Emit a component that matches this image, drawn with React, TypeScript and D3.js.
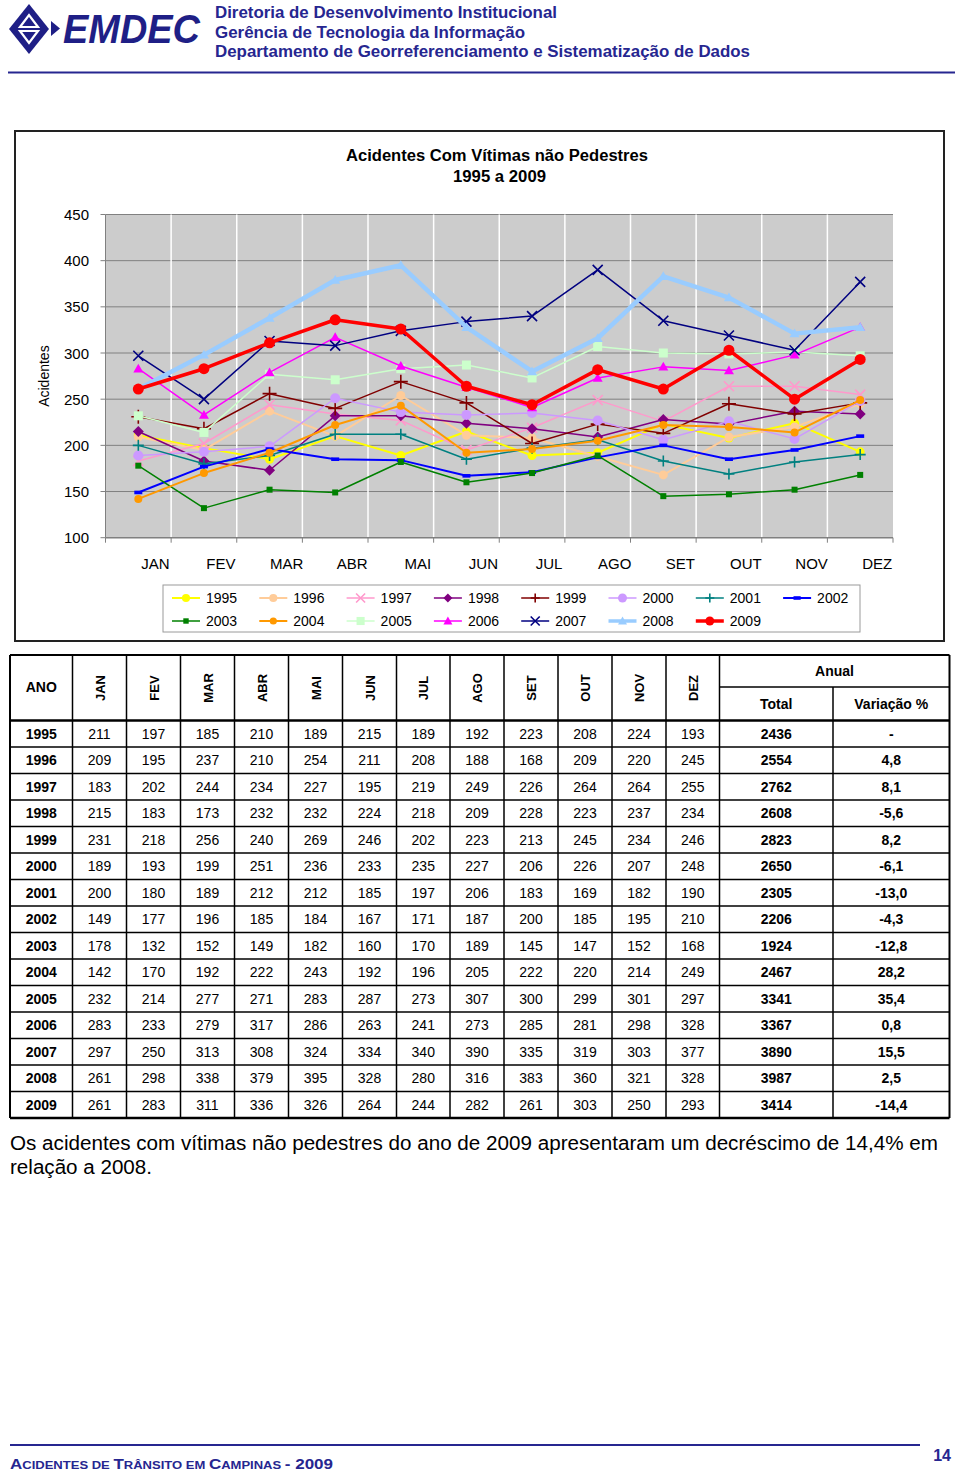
import React from "react";
import * as d3 from "d3";

const MONTHS = ["JAN", "FEV", "MAR", "ABR", "MAI", "JUN", "JUL", "AGO", "SET", "OUT", "NOV", "DEZ"];
const YEARS = ["1995", "1996", "1997", "1998", "1999", "2000", "2001", "2002", "2003", "2004", "2005", "2006", "2007", "2008", "2009"];

const V1995 = [211, 197, 185, 210, 189, 215, 189, 192, 223, 208, 224, 193];
const V1996 = [209, 195, 237, 210, 254, 211, 208, 188, 168, 209, 220, 245];
const V1997 = [183, 202, 244, 234, 227, 195, 219, 249, 226, 264, 264, 255];
const V1998 = [215, 183, 173, 232, 232, 224, 218, 209, 228, 223, 237, 234];
const V1999 = [231, 218, 256, 240, 269, 246, 202, 223, 213, 245, 234, 246];
const V2000 = [189, 193, 199, 251, 236, 233, 235, 227, 206, 226, 207, 248];
const V2001 = [200, 180, 189, 212, 212, 185, 197, 206, 183, 169, 182, 190];
const V2002 = [149, 177, 196, 185, 184, 167, 171, 187, 200, 185, 195, 210];
const V2003 = [178, 132, 152, 149, 182, 160, 170, 189, 145, 147, 152, 168];
const V2004 = [142, 170, 192, 222, 243, 192, 196, 205, 222, 220, 214, 249];
const V2005 = [232, 214, 277, 271, 283, 287, 273, 307, 300, 299, 301, 297];
const V2006 = [283, 233, 279, 317, 286, 263, 241, 273, 285, 281, 298, 328];
const V2007 = [297, 250, 313, 308, 324, 334, 340, 390, 335, 319, 303, 377];
const V2008 = [261, 298, 338, 379, 395, 328, 280, 316, 383, 360, 321, 328];
const V2009 = [261, 283, 311, 336, 326, 264, 244, 282, 261, 303, 250, 293];

const TOTALS = ["2436", "2554", "2762", "2608", "2823", "2650", "2305", "2206", "1924", "2467", "3341", "3367", "3890", "3987", "3414"];
const VARIATION = ["-", "4,8", "8,1", "-5,6", "8,2", "-6,1", "-13,0", "-4,3", "-12,8", "28,2", "35,4", "0,8", "15,5", "2,5", "-14,4"];

const Y_TICKS = [100, 150, 200, 250, 300, 350, 400, 450];

const SERIES_VALUES = [V1995, V1996, V1997, V1998, V1999, V2000, V2001, V2002, V2003, V2004, V2005, V2006, V2007, V2008, V2009];

// styles (separate from data)
const SERIES_STYLE = [
  { color: "#FFFF00", marker: "circle", size: 9, lw: 2 },
  { color: "#FFCC99", marker: "circle", size: 9, lw: 2 },
  { color: "#FF99CC", marker: "x", size: 10, lw: 1.5 },
  { color: "#800080", marker: "diamond", size: 11, lw: 1.5 },
  { color: "#800000", marker: "plus", size: 14, lw: 1.5 },
  { color: "#CC99FF", marker: "circle", size: 10, lw: 1.5 },
  { color: "#008080", marker: "plus", size: 11, lw: 1.5 },
  { color: "#0000FF", marker: "dash", size: 8, lw: 2 },
  { color: "#008000", marker: "square", size: 6, lw: 1.5 },
  { color: "#FF9900", marker: "circle", size: 8, lw: 2 },
  { color: "#CCFFCC", marker: "square", size: 9, lw: 1.5 },
  { color: "#FF00FF", marker: "triangle", size: 10, lw: 1.5 },
  { color: "#000080", marker: "x", size: 10, lw: 1.5 },
  { color: "#99CCFF", marker: "triangle", size: 10, lw: 4.5 },
  { color: "#FF0000", marker: "circle", size: 11, lw: 3.5 },
];

const FONT = "Liberation Sans, Arial, Helvetica, sans-serif";
const BLUE = "#262690";

function Marker({ type, x, y, color, size }: { type: string; x: number; y: number; color: string; size: number }) {
  const s = size / 2;
  switch (type) {
    case "circle":
      return <circle cx={x} cy={y} r={s} fill={color} />;
    case "square":
      return <rect x={x - s} y={y - s} width={size} height={size} fill={color} />;
    case "diamond":
      return <path d={`M${x},${y - s}L${x + s},${y}L${x},${y + s}L${x - s},${y}Z`} fill={color} />;
    case "triangle":
      return <path d={`M${x},${y - s}L${x + s},${y + s * 0.75}L${x - s},${y + s * 0.75}Z`} fill={color} />;
    case "x":
      return (
        <path d={`M${x - s},${y - s}L${x + s},${y + s}M${x - s},${y + s}L${x + s},${y - s}`} stroke={color} strokeWidth={1.6} fill="none" />
      );
    case "plus":
      return <path d={`M${x - s},${y}L${x + s},${y}M${x},${y - s}L${x},${y + s}`} stroke={color} strokeWidth={1.6} fill="none" />;
    case "dash":
      return <rect x={x - s} y={y - 1.8} width={size} height={3.6} fill={color} />;
    default:
      return null;
  }
}

function Header() {
  return (
    <g>
      {/* logo diamond */}
      <path d="M29,4 L49,29 L29,54 L9,29 Z" fill="#1f1f86" />
      <path d="M20,27 L29,15 L38,27 Z" fill="none" stroke="#fff" strokeWidth={2.2} />
      <path d="M20,31 L38,31 L29,43 Z" fill="none" stroke="#fff" strokeWidth={2.2} />
      <path d="M51,21 L60,28.5 L51,36 Z" fill="#1f1f86" />
      <text x={63} y={43} fontFamily={FONT} fontWeight="bold" fontStyle="italic" fontSize={40} fill="#1f1f86" textLength={137} lengthAdjust="spacingAndGlyphs">
        EMDEC
      </text>
      <text x={215} y={18} fontFamily={FONT} fontWeight="bold" fontSize={17} fill={BLUE} textLength={342} lengthAdjust="spacingAndGlyphs">
        Diretoria de Desenvolvimento Institucional
      </text>
      <text x={215} y={37.5} fontFamily={FONT} fontWeight="bold" fontSize={17} fill={BLUE} textLength={310} lengthAdjust="spacingAndGlyphs">
        Gerência de Tecnologia da Informação
      </text>
      <text x={215} y={57} fontFamily={FONT} fontWeight="bold" fontSize={17} fill={BLUE} textLength={535} lengthAdjust="spacingAndGlyphs">
        Departamento de Georreferenciamento e Sistematização de Dados
      </text>
      <line x1={8} x2={955} y1={72.5} y2={72.5} stroke={BLUE} strokeWidth={2} />
    </g>
  );
}

function Chart() {
  const left = 105.5;
  const right = 893;
  const top = 214.5;
  const bottom = 537.7;
  const x = d3.scaleBand<string>().domain(MONTHS).range([left, right]);
  const y = d3.scaleLinear().domain([100, 450]).range([bottom, top]);
  const bw = x.bandwidth();
  const cx = (m: string) => (x(m) as number) + bw / 2;
  const line = d3
    .line<number>()
    .x((_, i) => cx(MONTHS[i]))
    .y((d) => y(d));

  const legendX0 = 172;
  const legendDx = 87.3;
  const legendRows = [598, 621];

  return (
    <g>
      <rect x={15} y={131} width={929} height={510} fill="#fff" stroke="#222" strokeWidth={2} />
      <text x={497} y={161} textAnchor="middle" fontFamily={FONT} fontWeight="bold" fontSize={16} textLength={302} lengthAdjust="spacingAndGlyphs">
        Acidentes Com Vítimas não Pedestres
      </text>
      <text x={499.5} y={182} textAnchor="middle" fontFamily={FONT} fontWeight="bold" fontSize={16} textLength={93} lengthAdjust="spacingAndGlyphs">
        1995 a 2009
      </text>

      {/* plot area */}
      <rect x={left} y={top} width={right - left} height={bottom - top} fill="#cccccc" />
      {Y_TICKS.filter((t) => t > 100).map((t) => (
        <line key={"h" + t} x1={left} x2={right} y1={y(t)} y2={y(t)} stroke="#808080" strokeWidth={1} />
      ))}
      {MONTHS.slice(1).map((m) => (
        <line key={"v" + m} x1={x(m) as number} x2={x(m) as number} y1={top} y2={bottom} stroke="#ffffff" strokeWidth={1.5} />
      ))}
      {/* axes */}
      <line x1={left} x2={left} y1={top} y2={bottom} stroke="#808080" strokeWidth={1} />
      <line x1={left} x2={right} y1={bottom} y2={bottom} stroke="#808080" strokeWidth={1.5} />
      {Y_TICKS.map((t) => (
        <g key={"yt" + t}>
          <line x1={left - 5} x2={left} y1={y(t)} y2={y(t)} stroke="#808080" />
          <text x={89} y={y(t) + 5.5} textAnchor="end" fontFamily={FONT} fontSize={15}>
            {t}
          </text>
        </g>
      ))}
      {MONTHS.map((m) => (
        <line key={"xt" + m} x1={x(m) as number} x2={x(m) as number} y1={bottom} y2={bottom + 5} stroke="#808080" />
      ))}
      <line x1={right} x2={right} y1={bottom} y2={bottom + 5} stroke="#808080" />
      {MONTHS.map((m) => (
        <text key={"xl" + m} x={cx(m) + 17} y={569} textAnchor="middle" fontFamily={FONT} fontSize={15}>
          {m}
        </text>
      ))}
      <text transform={`translate(49,${(top + bottom) / 2}) rotate(-90)`} textAnchor="middle" fontFamily={FONT} fontSize={14}>
        Acidentes
      </text>

      {/* series */}
      {SERIES_VALUES.map((vals, si) => {
        const st = SERIES_STYLE[si];
        return (
          <g key={"s" + si}>
            <path d={line(vals) as string} fill="none" stroke={st.color} strokeWidth={st.lw} strokeLinejoin="round" />
            {vals.map((v, i) => (
              <Marker key={i} type={st.marker} x={cx(MONTHS[i])} y={y(v)} color={st.color} size={st.size} />
            ))}
          </g>
        );
      })}

      {/* legend */}
      <rect x={163} y={585} width={697} height={47} fill="#fff" stroke="#9a9a9a" strokeWidth={1} />
      {YEARS.map((yr, i) => {
        const st = SERIES_STYLE[i];
        const col = i % 8;
        const row = Math.floor(i / 8);
        const x0 = legendX0 + col * legendDx;
        const yy = legendRows[row];
        return (
          <g key={"lg" + yr}>
            <line x1={x0} x2={x0 + 28} y1={yy} y2={yy} stroke={st.color} strokeWidth={Math.min(st.lw, 3.5)} />
            <Marker type={st.marker} x={x0 + 14} y={yy} color={st.color} size={Math.min(st.size, 10) * 0.9} />
            <text x={x0 + 34} y={yy + 5} fontFamily={FONT} fontSize={14}>
              {yr}
            </text>
          </g>
        );
      })}
    </g>
  );
}

function Table() {
  const cols = [10, 72.5, 126.5, 180.5, 234.5, 288.5, 342.5, 396.5, 450, 504, 558, 612, 666, 719.5, 833, 949.5];
  const top = 655;
  const mid = 687;
  const headBottom = 720.5;
  const rowH = 26.5;
  const bottom = headBottom + rowH * YEARS.length;
  const center = (i: number) => (cols[i] + cols[i + 1]) / 2;

  return (
    <g fontFamily={FONT}>
      {/* header */}
      <text x={center(0)} y={692} textAnchor="middle" fontWeight="bold" fontSize={14}>
        ANO
      </text>
      {MONTHS.map((m, i) => (
        <text key={"th" + m} transform={`translate(${center(i + 1) + 5},688) rotate(-90)`} textAnchor="middle" fontWeight="bold" fontSize={13}>
          {m}
        </text>
      ))}
      <text x={(cols[13] + cols[15]) / 2} y={676} textAnchor="middle" fontWeight="bold" fontSize={14}>
        Anual
      </text>
      <text x={center(13)} y={709} textAnchor="middle" fontWeight="bold" fontSize={14}>
        Total
      </text>
      <text x={center(14)} y={709} textAnchor="middle" fontWeight="bold" fontSize={14}>
        Variação %
      </text>

      {/* rows */}
      {YEARS.map((yr, r) => {
        const cy = headBottom + rowH * r + rowH / 2 + 5;
        const vals = SERIES_VALUES[r];
        return (
          <g key={"row" + yr}>
            <text x={center(0)} y={cy} textAnchor="middle" fontWeight="bold" fontSize={14}>
              {yr}
            </text>
            {vals.map((v, i) => (
              <text key={i} x={center(i + 1)} y={cy} textAnchor="middle" fontSize={14}>
                {v}
              </text>
            ))}
            <text x={center(13)} y={cy} textAnchor="middle" fontWeight="bold" fontSize={14}>
              {TOTALS[r]}
            </text>
            <text x={center(14)} y={cy} textAnchor="middle" fontWeight="bold" fontSize={14}>
              {VARIATION[r]}
            </text>
          </g>
        );
      })}

      {/* grid lines */}
      {YEARS.map((yr, r) =>
        r === 0 ? null : (
          <line key={"hl" + yr} x1={cols[0]} x2={cols[15]} y1={headBottom + rowH * r} y2={headBottom + rowH * r} stroke="#000" strokeWidth={1.5} />
        )
      )}
      <line x1={cols[0]} x2={cols[15]} y1={headBottom} y2={headBottom} stroke="#000" strokeWidth={2.5} />
      <line x1={cols[13]} x2={cols[15]} y1={mid} y2={mid} stroke="#000" strokeWidth={1.5} />
      {cols.map((c, i) => {
        if (i === 14) return <line key={"vl" + i} x1={c} x2={c} y1={mid} y2={bottom} stroke="#000" strokeWidth={1.5} />;
        return <line key={"vl" + i} x1={c} x2={c} y1={top} y2={bottom} stroke="#000" strokeWidth={i === 0 || i === 15 ? 2 : 1.5} />;
      })}
      <line x1={cols[0]} x2={cols[15]} y1={top} y2={top} stroke="#000" strokeWidth={2} />
      <line x1={cols[0]} x2={cols[15]} y1={bottom} y2={bottom} stroke="#000" strokeWidth={2.5} />
    </g>
  );
}

function Footer() {
  return (
    <g fontFamily={FONT}>
      <text x={10} y={1150} fontSize={20} textLength={928} lengthAdjust="spacingAndGlyphs">
        Os acidentes com vítimas não pedestres do ano de 2009 apresentaram um decréscimo de 14,4% em
      </text>
      <text x={10} y={1174} fontSize={20} textLength={142} lengthAdjust="spacingAndGlyphs">
        relação a 2008.
      </text>
      <line x1={10} x2={920} y1={1445} y2={1445} stroke={BLUE} strokeWidth={2} />
      <text x={10} y={1469} fontWeight="bold" fill={BLUE} textLength={323} lengthAdjust="spacingAndGlyphs">
        <tspan fontSize={15}>A</tspan>
        <tspan fontSize={11.5}>CIDENTES DE </tspan>
        <tspan fontSize={15}>T</tspan>
        <tspan fontSize={11.5}>RÂNSITO EM </tspan>
        <tspan fontSize={15}>C</tspan>
        <tspan fontSize={11.5}>AMPINAS </tspan>
        <tspan fontSize={15}>- 2009</tspan>
      </text>
      <text x={951} y={1461} textAnchor="end" fontWeight="bold" fontSize={16} fill={BLUE}>
        14
      </text>
    </g>
  );
}

export default function App() {
  return (
    <svg
      width={960}
      height={1475}
      viewBox="0 0 960 1475"
      style={{ position: "absolute", left: 0, top: 0, background: "#fff" }}
    >
      <rect x={0} y={0} width={960} height={1475} fill="#fff" />
      <Header />
      <Chart />
      <Table />
      <Footer />
    </svg>
  );
}
